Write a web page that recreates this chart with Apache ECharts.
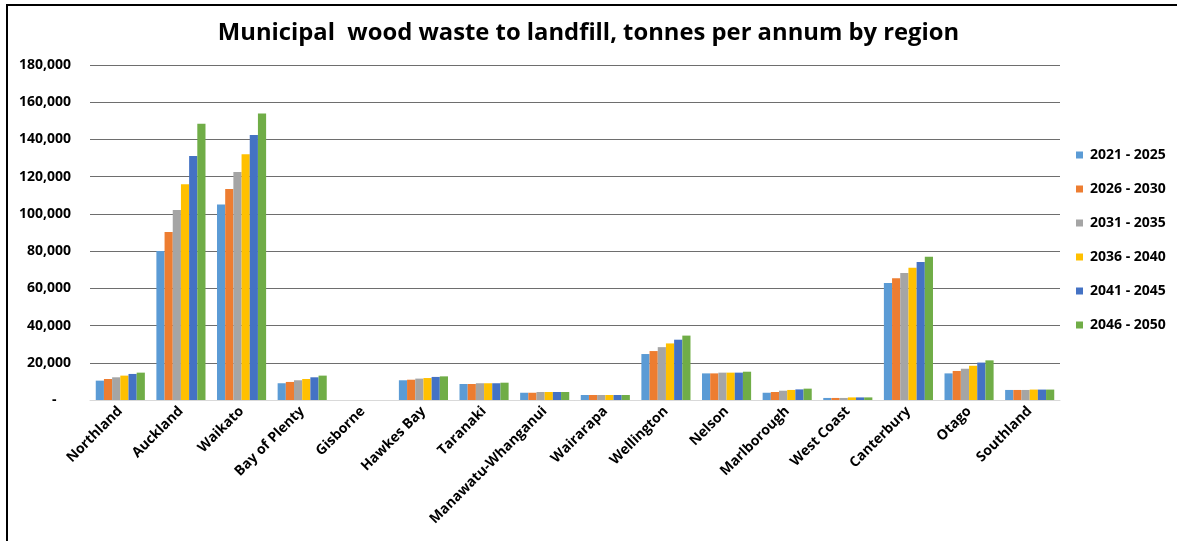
<!DOCTYPE html>
<html>
<head>
<meta charset="utf-8">
<script src="https://cdn.jsdelivr.net/npm/echarts@6/dist/echarts.min.js"></script>
<style>
html,body{margin:0;padding:0;background:#fff;}
#chart{width:1177px;height:541px;}
</style>
</head>
<body>
<div id="chart"></div>
<script>
const categories = ['Northland','Auckland','Waikato','Bay of Plenty','Gisborne','Hawkes Bay','Taranaki','Manawatu-Whanganui','Wairarapa','Wellington','Nelson','Marlborough','West Coast','Canterbury','Otago','Southland'];
const seriesNames = ['2021 - 2025','2026 - 2030','2031 - 2035','2036 - 2040','2041 - 2045','2046 - 2050'];
const p2021 = [10400, 80000, 105100, 9000, 0, 10600, 8600, 3900, 2700, 24700, 14300, 3900, 1100, 62900, 14300, 5400];
const p2026 = [11300, 90300, 113400, 9700, 0, 10900, 8600, 3900, 2700, 26300, 14300, 4300, 1100, 65400, 15600, 5400];
const p2031 = [12200, 102100, 122500, 10600, 0, 11500, 9000, 4300, 2700, 28400, 14700, 5000, 1100, 68200, 16800, 5400];
const p2036 = [13100, 115900, 132000, 11300, 0, 11800, 9000, 4300, 2700, 30400, 14700, 5400, 1400, 71100, 18400, 5600];
const p2041 = [14000, 131100, 142400, 12200, 0, 12400, 9000, 4300, 2700, 32400, 14700, 5700, 1400, 74100, 20100, 5600];
const p2046 = [14700, 148500, 154000, 13100, 0, 12700, 9300, 4300, 2700, 34600, 15200, 6100, 1400, 77000, 21300, 5600];
const seriesData = [p2021, p2026, p2031, p2036, p2041, p2046];
const colors = ['#5B9BD5','#ED7D31','#A5A5A5','#FFC000','#4472C4','#70AD47'];
const yTicks = { min: 0, max: 180000, interval: 20000 };
const titleText = 'Municipal  wood waste to landfill, tonnes per annum by region';

const FONT = '"Open Sans", "Liberation Sans", sans-serif';
const chart = echarts.init(document.getElementById('chart'), null, {renderer:'canvas'});
chart.setOption({
  animation: false,
  color: colors,
  textStyle: { fontFamily: FONT },
  title: {
    text: titleText,
    left: 'center', top: 16,
    textStyle: { fontFamily: FONT, fontWeight: 'bold', fontSize: 23.8, color: '#000' }
  },
  legend: {
    orient: 'vertical',
    left: 1071, top: 143,
    itemWidth: 7, itemHeight: 7, itemGap: 20,
    icon: 'rect',
    data: seriesNames,
    textStyle: { fontFamily: FONT, fontWeight: 'bold', fontSize: 14, color: '#000', padding: [0,0,0,2] }
  },
  grid: { left: 90, right: 117, top: 65, bottom: 141, containLabel: false },
  xAxis: {
    type: 'category',
    data: categories,
    axisLine: { show: true, lineStyle: { color: '#d9d9d9', width: 1 } },
    axisTick: { show: false },
    axisLabel: { rotate: 45, interval: 0, margin: 9, fontFamily: FONT, fontWeight: 'bold', fontSize: 14, color: '#000' }
  },
  yAxis: {
    type: 'value',
    min: yTicks.min, max: yTicks.max, interval: yTicks.interval,
    axisLine: { show: false },
    axisTick: { show: false },
    splitLine: { lineStyle: { color: '#6e6e6e', width: 1 } },
    axisLabel: {
      margin: 19, fontFamily: FONT, fontWeight: 'bold', fontSize: 14, color: '#000',
      formatter: v => v === 0 ? '-    ' : v.toLocaleString('en-US')
    }
  },
  series: seriesNames.map((n, i) => ({
    name: n, type: 'bar', data: seriesData[i],
    barGap: '0%', barCategoryGap: '19%',
    itemStyle: { color: colors[i] }
  })),
  graphic: [
    { type: 'polyline', shape: { points: [[7, 560], [7, 5], [1190, 5]] }, style: { stroke: '#000', lineWidth: 2, fill: null }, silent: true }
  ]
});
</script>
</body>
</html>
